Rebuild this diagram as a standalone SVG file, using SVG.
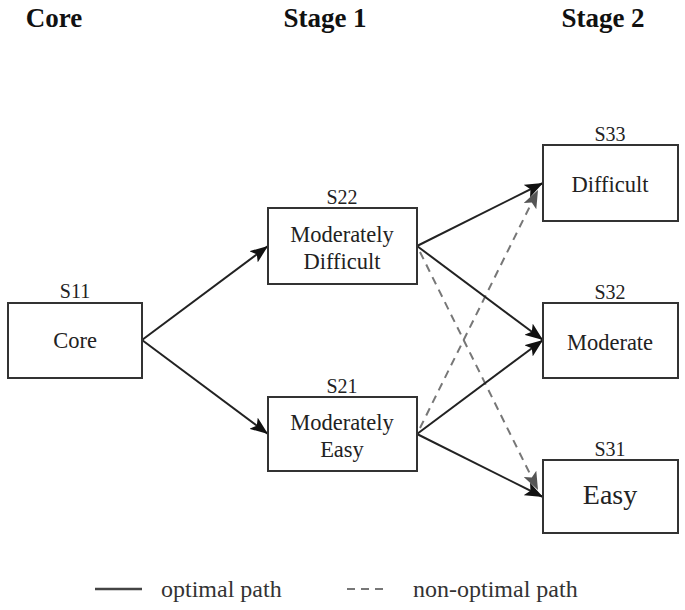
<svg xmlns="http://www.w3.org/2000/svg" width="685" height="610" viewBox="0 0 685 610">
<style>
.h{font-family:"Liberation Serif","Times New Roman",serif;font-weight:bold;font-size:27px;fill:#111;text-anchor:middle}
.t{font-family:"Liberation Serif","Times New Roman",serif;font-size:22.5px;fill:#222;text-anchor:middle}
.s{font-family:"Liberation Serif","Times New Roman",serif;font-size:20px;fill:#222;text-anchor:middle}
.lg{font-family:"Liberation Serif","Times New Roman",serif;font-size:24px;fill:#333}
.box{fill:#fff;stroke:#333;stroke-width:2}
.sol{stroke:#222;stroke-width:2;fill:none;marker-end:url(#ah)}
.das{stroke:#777;stroke-width:2;fill:none;stroke-dasharray:8 6;marker-end:url(#ahg)}
</style>
<defs>
<marker id="ah" markerUnits="userSpaceOnUse" markerWidth="19" markerHeight="14" refX="18" refY="7" orient="auto"><path d="M0,0 L18,7 L0,14 L4,7 z" fill="#111"/></marker>
<marker id="ahg" markerUnits="userSpaceOnUse" markerWidth="19" markerHeight="14" refX="18" refY="7" orient="auto"><path d="M0,0 L18,7 L0,14 L4,7 z" fill="#555"/></marker>
</defs>
<rect width="685" height="610" fill="#fff"/>
<text class="h" x="54" y="27">Core</text>
<text class="h" x="325" y="27">Stage 1</text>
<text class="h" x="603" y="27">Stage 2</text>
<g id="connectors">
<line class="das" x1="420" y1="252" x2="538" y2="490"/>
<line class="das" x1="420" y1="428" x2="538" y2="190"/>
<line class="sol" x1="142" y1="340" x2="268" y2="246"/>
<line class="sol" x1="142" y1="340" x2="268" y2="434"/>
<line class="sol" x1="417" y1="246" x2="543" y2="183"/>
<line class="sol" x1="417" y1="246" x2="543" y2="340"/>
<line class="sol" x1="417" y1="434" x2="543" y2="340"/>
<line class="sol" x1="417" y1="434" x2="543" y2="497"/>
</g>
<g id="S11">
<text class="s" x="75" y="298">S11</text>
<rect class="box" x="8" y="303" width="134" height="75"/>
<text class="t" x="75" y="348">Core</text>
</g>
<g id="S22">
<text class="s" x="342" y="204">S22</text>
<rect class="box" x="268" y="208" width="149" height="76"/>
<text class="t" x="342" y="242">Moderately</text>
<text class="t" x="342" y="269">Difficult</text>
</g>
<g id="S21">
<text class="s" x="342" y="393">S21</text>
<rect class="box" x="268" y="397" width="149" height="74"/>
<text class="t" x="342" y="430">Moderately</text>
<text class="t" x="342" y="457">Easy</text>
</g>
<g id="S33">
<text class="s" x="610" y="141">S33</text>
<rect class="box" x="543" y="145" width="135" height="76"/>
<text class="t" x="610" y="192">Difficult</text>
</g>
<g id="S32">
<text class="s" x="610" y="299">S32</text>
<rect class="box" x="543" y="303" width="135" height="75"/>
<text class="t" x="610" y="350">Moderate</text>
</g>
<g id="S31">
<text class="s" x="610" y="456">S31</text>
<rect class="box" x="543" y="460" width="135" height="73"/>
<text class="t" x="610" y="504" style="font-size:28px">Easy</text>
</g>
<g id="legend">
<line x1="95" y1="589" x2="142" y2="589" stroke="#444" stroke-width="2.5"/>
<text class="lg" x="161" y="597">optimal path</text>
<line x1="347" y1="589" x2="383" y2="589" stroke="#777" stroke-width="2" stroke-dasharray="8 6"/>
<text class="lg" x="413" y="597">non-optimal path</text>
</g>
</svg>
